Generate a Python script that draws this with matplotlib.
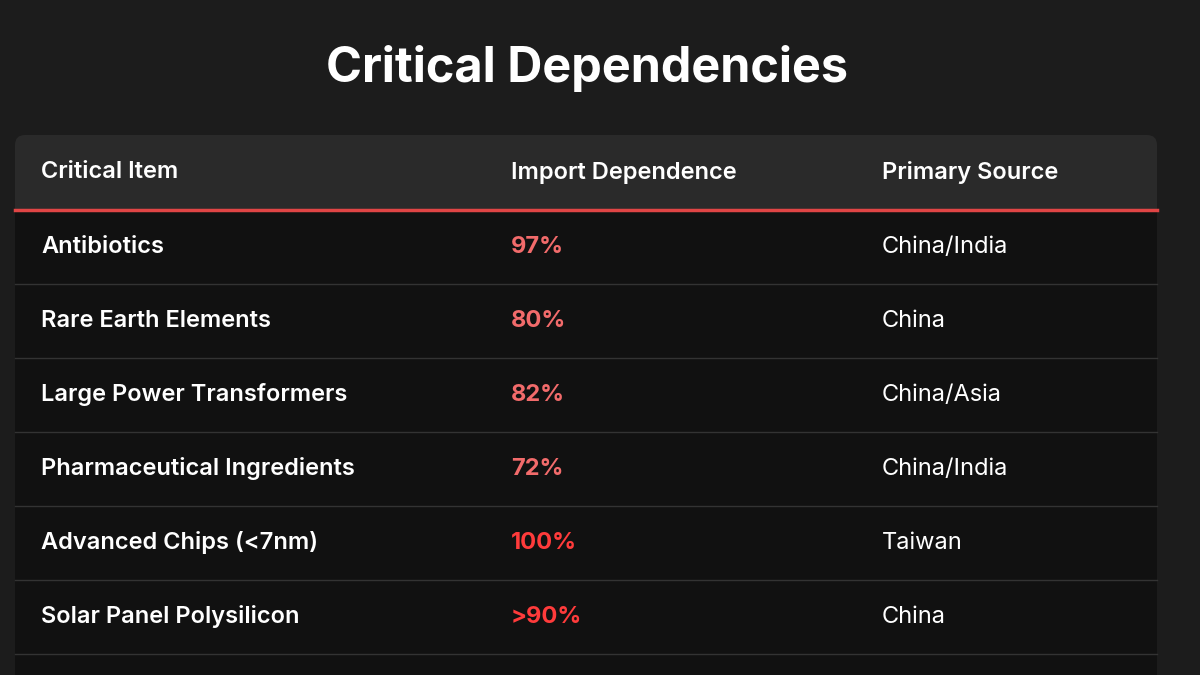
import matplotlib.pyplot as plt
from matplotlib.patches import FancyBboxPatch, Rectangle

plt.rcParams['font.family'] = ['Inter', 'DejaVu Sans']

title = "Critical Dependencies"
headers = ["Critical Item", "Import Dependence", "Primary Source"]
items = ["Antibiotics", "Rare Earth Elements", "Large Power Transformers",
         "Pharmaceutical Ingredients", "Advanced Chips (<7nm)", "Solar Panel Polysilicon"]
dependence = ["97%", "80%", "82%", "72%", "100%", ">90%"]
sources = ["China/India", "China", "China/Asia", "China/India", "Taiwan", "China"]
highlight = [False, False, False, False, True, True]

W, H = 1200, 675
fig = plt.figure(figsize=(12, 6.75), dpi=100, facecolor='#1c1c1c')
ax = fig.add_axes([0, 0, 1, 1])
ax.set_xlim(0, W)
ax.set_ylim(H, 0)
ax.axis('off')

ax.text(587, 68, title, color='white', fontsize=35, fontweight='bold',
        ha='center', va='center')

left, right = 15, 1157
top, head_bot = 135, 210
row_h = 74
# table body
ax.add_patch(Rectangle((left, head_bot), right - left, H - head_bot + 20,
                       facecolor='#111111', edgecolor='none'))
ax.add_patch(FancyBboxPatch((left, top), right - left, head_bot - top + 20,
                            boxstyle='round,pad=0,rounding_size=10',
                            facecolor='#2a2a2a', edgecolor='none'))
ax.add_patch(Rectangle((left, head_bot - 1), right - left, 60,
                       facecolor='#111111', edgecolor='none'))
ax.plot([left, right], [head_bot, head_bot], color='#e04545', lw=2.5)

cols = [41, 511, 882]
for x, h in zip(cols, headers):
    ax.text(x, (top + head_bot) / 2, h, color='white', fontsize=17,
            fontweight='semibold', ha='left', va='center')

for i in range(len(items)):
    yc = head_bot + row_h * (i + 0.5)
    ax.text(cols[0], yc, items[i], color='white', fontsize=17,
            fontweight='semibold', ha='left', va='center')
    ax.text(cols[1], yc, dependence[i], color='#ff3b3b' if highlight[i] else '#f26b6b',
            fontsize=17, fontweight='bold', ha='left', va='center')
    ax.text(cols[2], yc, sources[i], color='white', fontsize=17,
            ha='left', va='center')
    yb = head_bot + row_h * (i + 1)
    ax.plot([left, right], [yb, yb], color='#333333', lw=1)

fig.savefig('out.png', dpi=100, facecolor=fig.get_facecolor())
